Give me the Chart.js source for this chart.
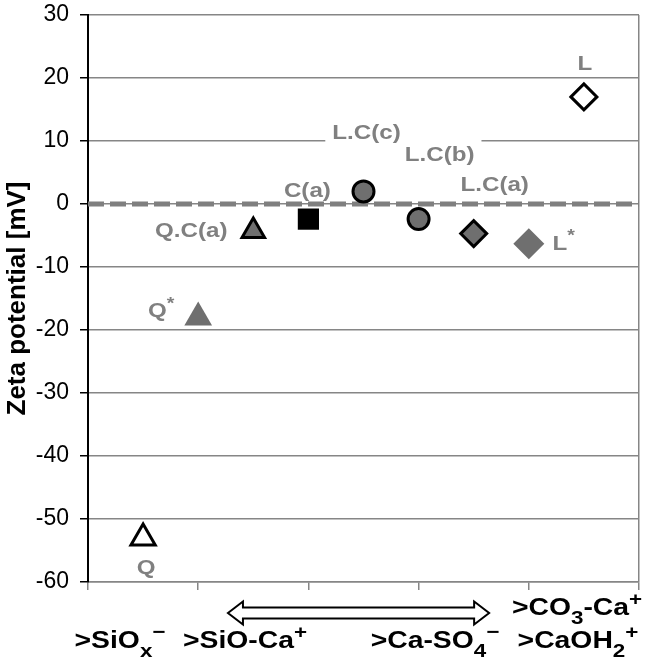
<!DOCTYPE html>
<html>
<head>
<meta charset="utf-8">
<script src="https://cdn.jsdelivr.net/npm/chart.js@4.4.1/dist/chart.umd.min.js"></script>
<style>
  html, body { margin: 0; padding: 0; background: #fff; }
</style>
</head>
<body>
<canvas id="zetaChart" width="645" height="666"></canvas>
<script>
// samples, position on the surface-site axis, zeta potential (mV)
const samples = ["Q", "Q*", "Q.C(a)", "C(a)", "L.C(c)", "L.C(b)", "L.C(a)", "L*", "L"];
const sitePos = [0.5, 1, 1.5, 2, 2.5, 3, 3.5, 4, 4.5];
const zeta = [-53, -18, -4.3, -2.4, 2, -2.4, -4.7, -6.3, 17];

const yTicks = [-60, -50, -40, -30, -20, -10, 0, 10, 20, 30];

// site labels under the axis: [text, '' | 'sub' | 'sup']
const siteLabels = [
  [[">SiO", ""], ["x", "sub"], ["\u2212", "sup"]],
  [[">SiO-Ca", ""], ["+", "sup"]],
  [[">Ca-SO", ""], ["4", "sub"], ["\u2212", "sup"]],
  [[">CO", ""], ["3", "sub"], ["-Ca", ""], ["+", "sup"]],
  [[">CaOH", ""], ["2", "sub"], ["+", "sup"]],
];

// styling
const FONT = "'Liberation Sans', Arial, sans-serif";
const GRAY = "#6f6f6f";
const GRID = "#868686";
const markerStyle = [
  { s: "triangle", r: 14, bg: "#fff", bw: 3 },
  { s: "triangle", r: 16, bg: GRAY, bw: 0 },
  { s: "triangle", r: 13, bg: GRAY, bw: 3 },
  { s: "rect", r: 15, bg: "#000", bw: 0 },
  { s: "circle", r: 10.5, bg: GRAY, bw: 3 },
  { s: "circle", r: 10.5, bg: GRAY, bw: 3 },
  { s: "rectRot", r: 13, bg: GRAY, bw: 3 },
  { s: "rectRot", r: 15.5, bg: GRAY, bw: 0 },
  { s: "rectRot", r: 13, bg: "#fff", bw: 3 },
];
// label offset from marker centre (px): centre x, baseline y
const labelOffset = [[3, 36], [-37, 0], [-62, 6], [-1, -22], [3, -52], [21, -58], [21, -43], [35, 6], [1, -27]];
// where the site labels sit: centre x (px), baseline (px)
const siteLabelPos = [[120, 648], [245, 648], [435, 648], [577, 615], [578, 648]];

function richDraw(ctx, parts, cx, base, size, sx, color, measureOnly) {
  const small = Math.round(size * 0.8);
  let w = 0;
  parts.forEach(([t, k]) => {
    ctx.font = "bold " + (k ? small : size) + "px " + FONT;
    w += ctx.measureText(t).width;
  });
  if (!measureOnly) {
    ctx.save();
    ctx.translate(cx, base);
    ctx.scale(sx, 1);
    ctx.fillStyle = color;
    ctx.textBaseline = "alphabetic";
    ctx.textAlign = "left";
    let x = -w / 2;
    parts.forEach(([t, k]) => {
      ctx.font = "bold " + (k ? small : size) + "px " + FONT;
      const dy = k === "sub" ? size * 0.38 : k === "sup" ? -size * 0.4 : 0;
      ctx.fillText(t, x, dy);
      x += ctx.measureText(t).width;
    });
    ctx.restore();
  }
  return w * sx;
}

function nameParts(name) {
  if (name.endsWith("*")) return [[name.slice(0, -1), ""], ["*", "sup"]];
  return [[name, ""]];
}

function noScalePadding(s) {
  s.paddingTop = 0;
  s.paddingBottom = 0;
  s.paddingLeft = 0;
  s.paddingRight = 0;
}

const labelPlugin = {
  id: "pointLabels",
  beforeDatasetsDraw(chart) {
    const ctx = chart.ctx;
    const pts = chart.getDatasetMeta(1).data;
    pts.forEach((p, i) => {
      const parts = nameParts(samples[i]);
      const cx = p.x + labelOffset[i][0];
      const base = p.y + labelOffset[i][1];
      const w = richDraw(ctx, parts, cx, base, 21, 1.15, "#808080", true);
      ctx.fillStyle = "#fff";
      ctx.fillRect(cx - w / 2 - 7, base - 22, w + 14, 27);
    });
    pts.forEach((p, i) => {
      const parts = nameParts(samples[i]);
      richDraw(ctx, parts, p.x + labelOffset[i][0], p.y + labelOffset[i][1], 21, 1.15, "#808080");
    });
  },
  afterDraw(chart) {
    const ctx = chart.ctx;
    const xs = chart.scales.x;
    // double-headed arrow
    const x0 = xs.getPixelForValue(1.27), x1 = xs.getPixelForValue(3.64);
    const y = chart.chartArea.bottom + 31, head = 15, hh = 11.5, sh = 5.5;
    ctx.save();
    ctx.beginPath();
    ctx.moveTo(x0, y);
    ctx.lineTo(x0 + head, y - hh);
    ctx.lineTo(x0 + head, y - sh);
    ctx.lineTo(x1 - head, y - sh);
    ctx.lineTo(x1 - head, y - hh);
    ctx.lineTo(x1, y);
    ctx.lineTo(x1 - head, y + hh);
    ctx.lineTo(x1 - head, y + sh);
    ctx.lineTo(x0 + head, y + sh);
    ctx.lineTo(x0 + head, y + hh);
    ctx.closePath();
    ctx.fillStyle = "#fff";
    ctx.fill();
    ctx.lineWidth = 2;
    ctx.strokeStyle = "#000";
    ctx.lineJoin = "miter";
    ctx.stroke();
    ctx.restore();

    siteLabels.forEach((parts, i) => {
      richDraw(ctx, parts, siteLabelPos[i][0], siteLabelPos[i][1], 24, 1.18, "#000");
    });
  },
};

const ctx = document.getElementById("zetaChart").getContext("2d");
new Chart(ctx, {
  type: "scatter",
  data: {
    datasets: [
      {
        type: "line",
        data: [{ x: 0, y: 0 }, { x: 5, y: 0 }],
        borderColor: "#7f7f7f",
        borderWidth: 5,
        borderDash: [16, 6],
        pointRadius: 0,
        order: 2,
      },
      {
        data: samples.map((s, i) => ({ x: sitePos[i], y: zeta[i] })),
        pointStyle: markerStyle.map((m) => m.s),
        pointRadius: markerStyle.map((m) => m.r),
        backgroundColor: markerStyle.map((m) => m.bg),
        borderColor: "#000",
        borderWidth: markerStyle.map((m) => m.bw),
        order: 1,
      },
    ],
  },
  options: {
    responsive: false,
    animation: false,
    events: [],
    layout: { autoPadding: false, padding: { left: 0, top: 15, right: 6, bottom: 0 } },
    plugins: { legend: { display: false }, tooltip: { enabled: false } },
    scales: {
      x: {
        type: "linear",
        min: 0,
        max: 5,
        ticks: { display: false, stepSize: 1 },
        grid: {
          color: (c) => (c.tick && c.tick.value === 5 ? GRID : "rgba(0,0,0,0)"),
          lineWidth: 1.5,
          tickColor: GRID,
          tickLength: 8,
        },
        border: { color: GRID, width: 1.5 },
        afterFit: (s) => { s.height = 84; noScalePadding(s); },
      },
      y: {
        min: -60,
        max: 30,
        afterBuildTicks: (s) => { s.ticks = yTicks.map((v) => ({ value: v })); },
        ticks: { color: "#000", padding: 11, font: { family: FONT, size: 23 } },
        grid: { color: GRID, lineWidth: 1.5, tickColor: "#000", tickLength: 8 },
        border: { color: "#000", width: 2 },
        title: {
          display: true,
          text: "Zeta potential [mV]",
          color: "#000",
          padding: { top: 2, bottom: 0 },
          font: { family: FONT, size: 26, weight: "bold" },
        },
        afterFit: (s) => { s.width = 88; noScalePadding(s); },
      },
    },
  },
  plugins: [labelPlugin],
});
</script>
</body>
</html>
